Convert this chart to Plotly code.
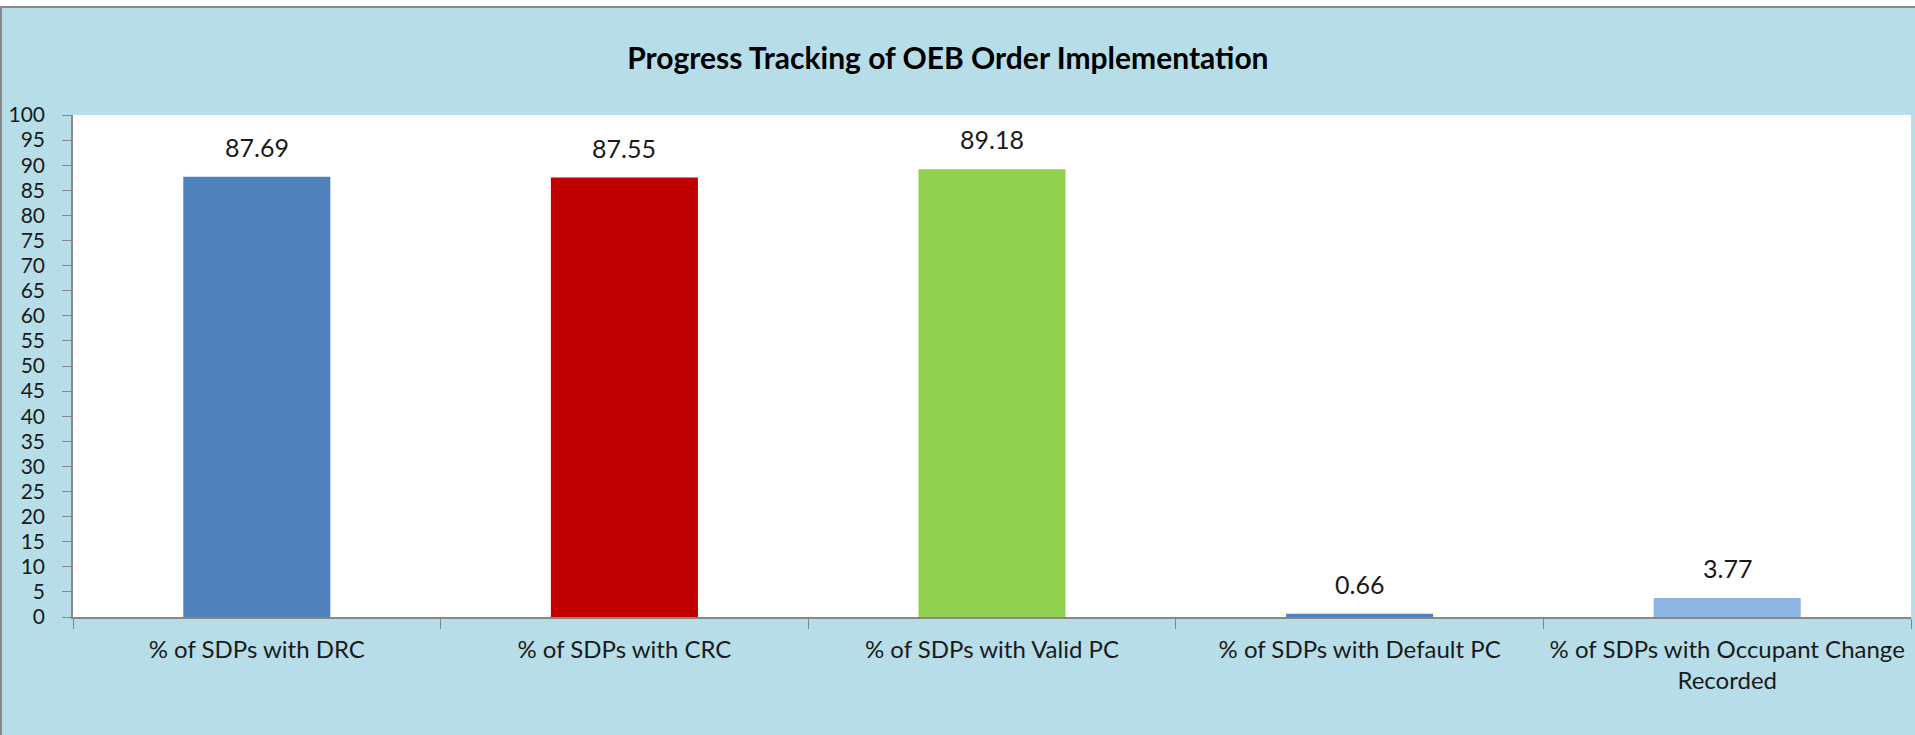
import plotly.graph_objects as go

categories = ["% of SDPs with DRC", "% of SDPs with CRC", "% of SDPs with Valid PC",
              "% of SDPs with Default PC", "% of SDPs with Occupant Change Recorded"]
tick_labels = ["% of SDPs with DRC", "% of SDPs with CRC", "% of SDPs with Valid PC",
               "% of SDPs with Default PC", "% of SDPs with Occupant Change<br>Recorded"]
values = [87.69, 87.55, 89.18, 0.66, 3.77]
bar_colors = ["#4F81BD", "#C00000", "#92D050", "#4F81BD", "#8DB4E2"]
title_text = "Progress Tracking of OEB Order Implementation"

W, H = 1915, 735
ML, MR, MT, MB = 73, 4, 115, 118
BG = "#B7DEE8"
FONT = "Lato"
TXT = "#1a1a1a"

fig = go.Figure()
fig.add_trace(go.Bar(
    x=categories, y=values,
    marker=dict(color=bar_colors, line=dict(width=0)),
    showlegend=False, hoverinfo="x+y",
))

for c, v in zip(categories, values):
    fig.add_annotation(x=c, y=v, text=f"{v:.2f}", showarrow=False,
                       yanchor="bottom", yshift=13,
                       font=dict(family=FONT, size=25, color=TXT))

# frame decorations in paper coordinates
ph = H - MT - MB
pw = W - ML - MR
def py(p):
    return (H - MB - p) / ph
def px(p):
    return (p - ML) / pw

fig.add_shape(type="rect", xref="paper", yref="paper",
              x0=px(0), x1=px(W), y0=py(6), y1=py(0),
              fillcolor="white", line=dict(width=0), layer="below")
fig.add_shape(type="line", xref="paper", yref="paper",
              x0=px(0), x1=px(W), y0=py(7), y1=py(7),
              line=dict(color="#888888", width=2))
fig.add_shape(type="line", xref="paper", yref="paper",
              x0=px(1), x1=px(1), y0=py(H), y1=py(7),
              line=dict(color="#888888", width=2))

fig.update_layout(
    width=W, height=H,
    margin=dict(l=ML, r=MR, t=MT, b=MB, pad=0),
    paper_bgcolor=BG, plot_bgcolor="white",
    bargap=0.6,
    title=dict(text=f"<b>{title_text}</b>", x=0.495, xanchor="center",
               y=1 - 58 / H, yanchor="middle", yref="container",
               font=dict(family=FONT, size=30, color="black")),
    font=dict(family=FONT, size=24, color=TXT),
    xaxis=dict(
        tickmode="array", tickvals=categories, ticktext=tick_labels,
        tickson="boundaries", ticks="outside", ticklen=10, tickcolor="#888888",
        showline=True, linecolor="#888888", linewidth=1.5,
        showgrid=False, tickangle=0, ticklabelstandoff=10,
        tickfont=dict(family=FONT, size=24, color=TXT),
    ),
    yaxis=dict(
        range=[0, 100], dtick=5, tick0=0,
        ticks="outside", ticklen=9, tickcolor="#888888",
        showline=True, linecolor="#888888", linewidth=1.5,
        showgrid=False, zeroline=False, ticklabelstandoff=13,
        tickfont=dict(family=FONT, size=21, color=TXT),
    ),
)

fig.write_html("out.html", config={"displayModeBar": False},
               post_script="document.body.style.margin='0';document.body.style.overflow='hidden';")
